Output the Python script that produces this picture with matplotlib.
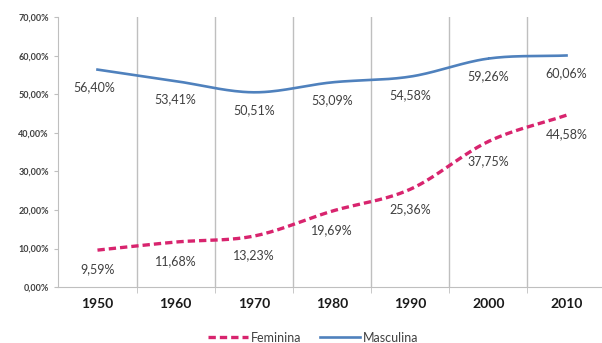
import matplotlib
matplotlib.use("Agg")
import matplotlib.pyplot as plt
import numpy as np

years = ["1950", "1960", "1970", "1980", "1990", "2000", "2010"]
feminina = [9.59, 11.68, 13.23, 19.69, 25.36, 37.75, 44.58]
masculina = [56.40, 53.41, 50.51, 53.09, 54.58, 59.26, 60.06]
yticks = [0, 10, 20, 30, 40, 50, 60, 70]

plt.rcParams["font.family"] = ["Lato", "DejaVu Sans"]


def smooth(x, y, n=30):
    # Catmull-Rom spline, like Excel's "smoothed line"
    x = np.asarray(x, float)
    y = np.asarray(y, float)
    px = np.concatenate([[2 * x[0] - x[1]], x, [2 * x[-1] - x[-2]]])
    py = np.concatenate([[2 * y[0] - y[1]], y, [2 * y[-1] - y[-2]]])
    xs, ys = [], []
    t = np.linspace(0, 1, n)
    for i in range(1, len(px) - 2):
        for p, out in ((px, xs), (py, ys)):
            p0, p1, p2, p3 = p[i - 1], p[i], p[i + 1], p[i + 2]
            out.extend(0.5 * (2 * p1 + (-p0 + p2) * t
                              + (2 * p0 - 5 * p1 + 4 * p2 - p3) * t ** 2
                              + (-p0 + 3 * p1 - 3 * p2 + p3) * t ** 3))
    return np.array(xs), np.array(ys)


fig = plt.figure(figsize=(6.02, 3.43), dpi=100)
ax = fig.add_axes([0.097, 0.163, 0.909, 0.787])

x = np.arange(len(years))
fx, fy = smooth(x, feminina)
mx, my = smooth(x, masculina)
ax.plot(fx, fy, color="#d8246e", lw=2.4, ls=(0, (2.2, 1.2)), label="Feminina")
ax.plot(mx, my, color="#4f81bd", lw=1.9, label="Masculina")

for xi, v in zip(x, feminina):
    ax.annotate(f"{v:.2f}%".replace(".", ","), (xi, v), xytext=(0, -14),
                textcoords="offset points", ha="center", va="center",
                fontsize=9, color="#404040")
for xi, v in zip(x, masculina):
    ax.annotate(f"{v:.2f}%".replace(".", ","), (xi, v), xytext=(-2 if xi == 0 else 0, -13),
                textcoords="offset points", ha="center", va="center",
                fontsize=9, color="#404040")

ax.set_xlim(-0.5, len(years) - 0.5)
ax.set_ylim(0, 70)
ax.set_xticks(x)
ax.set_xticklabels(years, fontsize=10, fontweight="bold", color="#1a1a1a")
ax.set_xticks(np.arange(0.5, len(years) - 0.5, 1), minor=True)
ax.grid(True, axis="x", which="minor", color="#bfbfbf", lw=1)
ax.tick_params(axis="x", which="major", length=0, pad=8)
ax.tick_params(axis="x", which="minor", length=4, color="#bfbfbf")
ax.set_yticks(yticks)
ax.set_yticklabels([f"{t:.2f}%".replace(".", ",") for t in yticks],
                   fontsize=6.5, fontweight="bold", color="#404040")
ax.tick_params(axis="y", length=3, color="#bfbfbf", pad=4)

for side in ("top", "right"):
    ax.spines[side].set_visible(False)
for side in ("left", "bottom"):
    ax.spines[side].set_color("#bfbfbf")

fig.legend(loc="lower center", bbox_to_anchor=(0.52, -0.035), ncol=2,
           frameon=False, fontsize=9, handlelength=3.2, columnspacing=1.5,
           handletextpad=0.2, labelcolor="#404040")

fig.savefig("out.png", dpi=100)
